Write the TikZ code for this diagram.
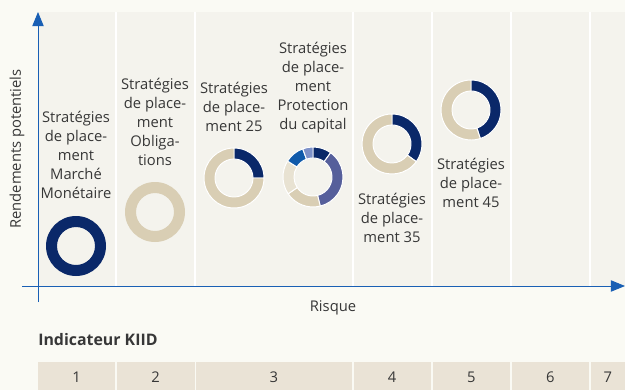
\documentclass[tikz,border=0pt]{standalone}
\usepackage{fontspec}
\setmainfont{Open Sans}
\usetikzlibrary{arrows.meta,positioning}
\definecolor{bgcream}{RGB}{250,250,244}
\definecolor{panelgray}{RGB}{244,243,237}
\definecolor{axisblue}{RGB}{25,95,180}
\definecolor{textgray}{RGB}{55,55,55}
\definecolor{navy}{RGB}{10,40,105}
\definecolor{sand}{RGB}{217,206,180}
\definecolor{lightsand}{RGB}{232,226,210}
\definecolor{slate}{RGB}{86,95,155}
\definecolor{midblue}{RGB}{16,90,170}
\definecolor{peri}{RGB}{125,145,200}
\definecolor{kiidbeige}{RGB}{234,227,214}

\begin{document}
\begin{tikzpicture}[x=0.025cm, y=0.025cm, font=\fontsize{10.5}{13.5}\selectfont, text=textgray]
      \tikzstyle{axisline}=[draw=axisblue,line width=0.7pt,-{Triangle[length=10pt,width=8pt]}]
      \tikzstyle{seg}=[draw=white,line width=0.7pt]
      \tikzstyle{lbl}=[align=center,inner sep=0pt]
      \useasboundingbox (0,0) rectangle (625,390);
      \fill[bgcream] (0,0) rectangle (625,390);
      \fill[panelgray] (39,104) rectangle (625,378);
      \foreach \x in {116,195,353,432,511,590}
        \draw[white,line width=1pt] (\x,104) -- (\x,378);

      \coordinate (yfoot) at (38,88);
      \coordinate (ytip) at (38,378);
      \coordinate (xfoot) at (22,104);
      \coordinate (xtip) at (625,104);
      \draw[axisline] (xfoot) -- (xtip);
      \draw[axisline] (yfoot) -- (ytip);
      \node[rotate=90] (ylab) at (17,241) {Rendements potentiels};
      \node (xlab) at (333,82) {Risque};

      \coordinate (mm) at (76,144);
      \coordinate (obl) at (155,178);
      \coordinate (s25) at (234,212);
      \coordinate (prot) at (313,213);
      \coordinate (s35) at (392,246);
      \coordinate (s45) at (471,280);
      \fill[navy,even odd rule] (mm) circle[radius=30] circle[radius=19];
      \fill[sand,even odd rule] (obl) circle[radius=30] circle[radius=19];
      \foreach \r/\a/\b/\col in {s25/90/0/navy, s25/0/-270/sand,
          s35/90/-36/navy, s35/-36/-270/sand,
          s45/90/-72/navy, s45/-72/-270/sand,
          prot/90/54/navy, prot/54/-76/slate, prot/-76/-146/sand,
          prot/-146/-212/lightsand, prot/-212/-250/midblue, prot/-250/-270/peri}
        \filldraw[seg,fill=\col] ([shift={(\a:30)}]\r) arc[start angle=\a,end angle=\b,radius=30]
          -- ([shift={(\b:19)}]\r) arc[start angle=\b,end angle=\a,radius=19] -- cycle;

      \node[lbl] (lmm) at (76,235) {Stratégies\\de place-\\ment\\Marché\\Monétaire};
      \node[lbl] (lobl) at (155,268) {Stratégies\\de place-\\ment\\Obliga-\\tions};
      \node[lbl] (l25) at (234,283) {Stratégies\\de place-\\ment 25};
      \node[lbl] (lprot) at (313,302) {Stratégies\\de place-\\ment\\Protection\\du capital};
      \node[lbl] (l35) at (392,172) {Stratégies\\de place-\\ment 35};
      \node[lbl] (l45) at (471,207) {Stratégies\\de place-\\ment 45};

      \node[anchor=west,inner sep=0pt,font=\fontsize{11.3}{13.5}\selectfont\bfseries] (kiid) at (38,50) {Indicateur KIID};
      \foreach \n/\a/\b in {1/38/115, 2/116.5/194.5, 3/195.5/352, 4/353.5/430.5,
          5/432.5/510, 6/511.5/589, 7/590.5/625} {
        \fill[kiidbeige] (\a,0) rectangle (\b,28);
        \node (k\n) at ({(\a+\b)/2},13) {\n};
      }
    \end{tikzpicture}
\end{document}
